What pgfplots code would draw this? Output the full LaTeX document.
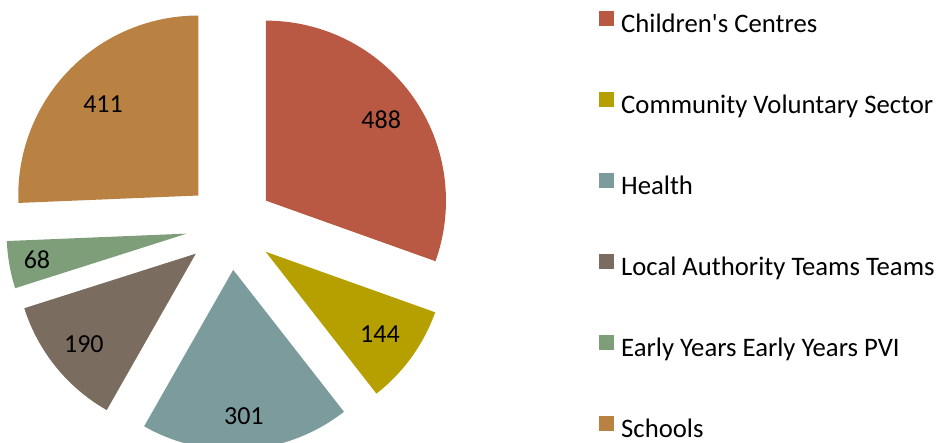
\documentclass[border=0pt]{standalone}
\usepackage{pgfplots}
\pgfplotsset{compat=1.18}
\usepackage{fontspec}
\setmainfont{Carlito}[Ligatures=TeXOff]
\newcommand\lbl{\fontsize{26}{31}\selectfont}
\newcommand\lgd{\fontsize{26.7}{32}\selectfont}
\definecolor{cChild}{RGB}{185,89,67}
\definecolor{cComm}{RGB}{181,160,0}
\definecolor{cHealth}{RGB}{124,155,157}
\definecolor{cLA}{RGB}{123,108,96}
\definecolor{cEY}{RGB}{126,158,122}
\definecolor{cSch}{RGB}{185,130,67}
\def\total{1602}
\def\cx{230}\def\cy{-226}\def\ex{44}\def\R{180}
% #1 cumulative before, #2 value, #3 colour, #4 legend text, #5 label distance
\newcommand{\slice}[5]{%
 \pgfmathsetmacro{\aS}{90-(#1)/\total*360}%
 \pgfmathsetmacro{\aE}{90-(#1+#2)/\total*360}%
 \pgfmathsetmacro{\aM}{(\aS+\aE)/2}%
 \pgfmathsetmacro{\ox}{\cx+\ex*cos(\aM)}%
 \pgfmathsetmacro{\oy}{\cy+\ex*sin(\aM)}%
 \pgfmathsetmacro{\lx}{\ox+#5*cos(\aM)}%
 \pgfmathsetmacro{\ly}{\oy+#5*sin(\aM)}%
 \edef\temp{\noexpand\addplot[fill=#3, draw=none, domain=\aE:\aS, samples=120] ({\ox+\R*cos(x)},{\oy+\R*sin(x)}) -- (axis cs:\ox,\oy) -- cycle;
 \noexpand\addlegendentry{#4}
 \noexpand\node[font=\noexpand\lbl, inner sep=0pt] at (axis cs:\lx,\ly) {#2};}%
 \temp
}
\begin{document}
\begin{tikzpicture}
\begin{axis}[
  name=ax,
  x=1pt, y=1pt, scale only axis,
  xmin=0, xmax=941, ymin=-443, ymax=0,
  hide axis, clip=true,
  legend cell align=left,
  legend image code/.code={\fill[#1] (0pt,0pt) rectangle (15pt,15pt);},
  legend style={at={(axis cs:599,-10.5)}, anchor=north west, draw=none, fill=none,
    font=\lgd, inner sep=0pt, row sep=53.6pt, column sep=7pt,
    nodes={inner sep=0pt, text height=19pt, text depth=6pt}},
]
\slice{0}{488}{cChild}{Children's Centres}{141}
\slice{488}{144}{cComm}{Community Voluntary Sector}{141}
\slice{632}{301}{cHealth}{Health}{147}
\slice{933}{190}{cLA}{Local Authority Teams Teams}{144}
\slice{1123}{68}{cEY}{Early Years Early Years PVI}{152}
\slice{1191}{411}{cSch}{Schools}{132}
\end{axis}
\pgfresetboundingbox
\path (ax.south west) rectangle (ax.north east);
\end{tikzpicture}
\end{document}
